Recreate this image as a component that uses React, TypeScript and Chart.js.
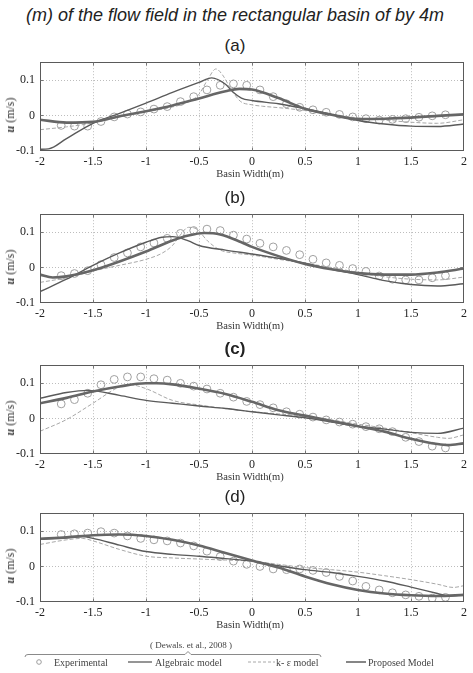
import React, { useEffect, useRef } from 'react';
import { Chart, registerables } from 'chart.js';
Chart.register(...registerables);

// ---------- shared axis data ----------
const xTickValues = [-2, -1.5, -1, -0.5, 0, 0.5, 1, 1.5, 2];
const xTickLabels = ['-2', '-1.5', '-1', '-0.5', '0', '0.5', '1', '1.5', '2'];
const yTickValues = [-0.1, 0, 0.1];
const yTickLabels = ['-0.1', '0', '0.1'];

// experimental sample positions (m)
const xExp = [-1.8, -1.675, -1.55, -1.425, -1.3, -1.175, -1.05, -0.925, -0.8, -0.675, -0.55, -0.425, -0.3, -0.175, -0.05, 0.075, 0.2, 0.325, 0.45, 0.575, 0.7, 0.825, 0.95, 1.075, 1.2, 1.325, 1.45, 1.575, 1.7, 1.825];

// ---------- (a) ----------
const expA = [-0.028, -0.030, -0.030, -0.017, -0.004, 0.004, 0.010, 0.018, 0.025, 0.039, 0.053, 0.072, 0.085, 0.089, 0.085, 0.072, 0.053, 0.033, 0.023, 0.016, 0.009, 0.003, -0.004, -0.009, -0.013, -0.011, -0.009, -0.005, -0.001, 0.002];
const algAx = [-2, -1.92, -1.75, -1.5, -1.25, -1, -0.75, -0.5, -0.38, -0.25, -0.18, -0.1, 0, 0.25, 0.5, 0.75, 1, 1.25, 1.5, 1.75, 2];
const algAy = [-0.095, -0.094, -0.065, -0.022, 0.006, 0.035, 0.065, 0.093, 0.106, 0.088, 0.066, 0.049, 0.042, 0.033, 0.019, 0.003, -0.014, -0.024, -0.030, -0.031, -0.024];
const keAx = [-2, -1.75, -1.5, -1.25, -1, -0.75, -0.6, -0.5, -0.42, -0.34, -0.28, -0.2, -0.11, 0, 0.1, 0.25, 0.5, 0.75, 1, 1.25, 1.5, 1.75, 2];
const keAy = [-0.040, -0.032, -0.021, -0.004, 0.010, 0.024, 0.038, 0.060, 0.100, 0.131, 0.115, 0.075, 0.040, 0.030, 0.026, 0.022, 0.014, 0.004, -0.007, -0.013, -0.019, -0.022, -0.012];
const propAx = [-2, -1.75, -1.5, -1.25, -1, -0.75, -0.5, -0.25, -0.12, 0, 0.25, 0.5, 0.75, 1, 1.25, 1.5, 1.75, 2];
const propAy = [-0.012, -0.020, -0.018, -0.002, 0.012, 0.028, 0.048, 0.068, 0.075, 0.073, 0.049, 0.019, 0.002, -0.010, -0.009, -0.006, -0.001, 0.003];

// ---------- (b) ----------
const expB = [-0.023, -0.017, -0.009, 0.008, 0.028, 0.041, 0.058, 0.069, 0.082, 0.096, 0.104, 0.108, 0.104, 0.091, 0.080, 0.068, 0.058, 0.048, 0.036, 0.023, 0.013, 0.006, -0.003, -0.011, -0.024, -0.033, -0.035, -0.035, -0.029, -0.023];
const algBx = [-2, -1.75, -1.5, -1.25, -1, -0.85, -0.75, -0.6, -0.5, -0.25, 0, 0.25, 0.5, 0.75, 1, 1.25, 1.5, 1.75, 2];
const algBy = [-0.068, -0.033, 0.006, 0.041, 0.071, 0.085, 0.087, 0.075, 0.062, 0.049, 0.038, 0.026, 0.012, -0.005, -0.020, -0.037, -0.048, -0.052, -0.046];
const keBx = [-2, -1.75, -1.5, -1.25, -1, -0.85, -0.75, -0.68, -0.6, -0.52, -0.42, -0.3, -0.15, 0, 0.25, 0.5, 0.75, 1, 1.25, 1.5, 1.75, 2];
const keBy = [-0.042, -0.029, -0.010, 0.006, 0.023, 0.040, 0.062, 0.090, 0.113, 0.108, 0.075, 0.049, 0.040, 0.035, 0.023, 0.012, 0.000, -0.014, -0.026, -0.033, -0.035, -0.027];
const propBx = [-2, -1.88, -1.75, -1.5, -1.25, -1, -0.75, -0.6, -0.45, -0.3, -0.1, 0, 0.25, 0.5, 0.75, 1, 1.25, 1.5, 1.75, 2];
const propBy = [-0.020, -0.028, -0.025, -0.008, 0.017, 0.045, 0.076, 0.090, 0.097, 0.093, 0.071, 0.058, 0.032, 0.010, -0.005, -0.016, -0.020, -0.020, -0.014, -0.003];

// ---------- (c) ----------
const expC = [0.041, 0.053, 0.071, 0.095, 0.110, 0.117, 0.117, 0.112, 0.108, 0.099, 0.091, 0.083, 0.071, 0.060, 0.048, 0.039, 0.030, 0.019, 0.012, 0.004, -0.004, -0.010, -0.016, -0.023, -0.029, -0.037, -0.053, -0.065, -0.078, -0.083];
const algCx = [-2, -1.75, -1.55, -1.25, -1, -0.75, -0.5, -0.25, 0, 0.25, 0.5, 0.75, 1, 1.25, 1.5, 1.75, 2];
const algCy = [0.057, 0.073, 0.079, 0.065, 0.051, 0.043, 0.035, 0.028, 0.019, 0.010, 0.002, -0.010, -0.022, -0.030, -0.039, -0.042, -0.027];
const keCx = [-2, -1.75, -1.5, -1.25, -1.15, -1, -0.75, -0.5, -0.25, 0, 0.25, 0.5, 0.75, 1, 1.25, 1.5, 1.75, 1.85, 2];
const keCy = [-0.036, -0.003, 0.043, 0.089, 0.095, 0.084, 0.051, 0.038, 0.028, 0.019, 0.013, 0.006, -0.004, -0.016, -0.027, -0.040, -0.053, -0.056, -0.046];
const propCx = [-2, -1.75, -1.5, -1.25, -1, -0.9, -0.75, -0.5, -0.25, 0, 0.25, 0.5, 0.75, 1, 1.25, 1.5, 1.75, 1.85, 2];
const propCy = [0.043, 0.058, 0.076, 0.090, 0.099, 0.099, 0.096, 0.084, 0.069, 0.047, 0.023, 0.008, -0.007, -0.022, -0.037, -0.057, -0.072, -0.075, -0.070];

// ---------- (d) ----------
const expD = [0.090, 0.092, 0.094, 0.098, 0.094, 0.086, 0.079, 0.075, 0.072, 0.066, 0.058, 0.043, 0.028, 0.015, 0.006, 0.000, -0.007, -0.009, -0.007, -0.011, -0.017, -0.028, -0.041, -0.056, -0.066, -0.074, -0.080, -0.084, -0.089, -0.087];
const algDx = [-2, -1.75, -1.6, -1.5, -1.25, -1, -0.75, -0.5, -0.25, 0, 0.25, 0.5, 0.75, 1, 1.25, 1.5, 1.75, 1.85, 2];
const algDy = [0.078, 0.081, 0.084, 0.079, 0.060, 0.042, 0.034, 0.029, 0.022, 0.015, 0.002, -0.009, -0.017, -0.028, -0.041, -0.058, -0.076, -0.083, -0.080];
const keDx = [-2, -1.75, -1.6, -1.5, -1.25, -1, -0.75, -0.5, -0.25, 0, 0.25, 0.5, 0.75, 1, 1.25, 1.5, 1.75, 1.9, 2];
const keDy = [0.062, 0.075, 0.079, 0.072, 0.048, 0.029, 0.024, 0.021, 0.018, 0.015, 0.006, -0.003, -0.009, -0.016, -0.026, -0.037, -0.050, -0.059, -0.054];
const propDx = [-2, -1.75, -1.5, -1.25, -1, -0.75, -0.5, -0.25, 0, 0.25, 0.5, 0.75, 1, 1.25, 1.5, 1.75, 2];
const propDy = [0.078, 0.082, 0.088, 0.090, 0.086, 0.075, 0.059, 0.038, 0.017, -0.003, -0.028, -0.050, -0.066, -0.076, -0.081, -0.083, -0.080];

const panelLabels = ['(a)', '(b)', '(c)', '(d)'];
const seriesNames = ['Experimental', 'Algebraic model', 'k- ε model', 'Proposed Model'];

const PANELS = [
  { label: panelLabels[0], bold: false, top: 54, exp: expA, alg: [algAx, algAy], ke: [keAx, keAy], prop: [propAx, propAy] },
  { label: panelLabels[1], bold: false, top: 206, exp: expB, alg: [algBx, algBy], ke: [keBx, keBy], prop: [propBx, propBy] },
  { label: panelLabels[2], bold: true, top: 357, exp: expC, alg: [algCx, algCy], ke: [keCx, keCy], prop: [propCx, propCy] },
  { label: panelLabels[3], bold: false, top: 505, exp: expD, alg: [algDx, algDy], ke: [keDx, keDy], prop: [propDx, propDy] },
];

const PLOT_H = 97;
const PAD_TOP = 4;
const X_AXIS_H = 20;
const SERIF = '"Liberation Serif", "DejaVu Serif", serif';
const SANS = '"Liberation Sans", Arial, sans-serif';

const toPts = (xs: number[], ys: number[]) => xs.map((x, i) => ({ x, y: ys[i] }));

const framePlugin = {
  id: 'frameGrid',
  beforeDatasetsDraw(chart: any) {
    const { ctx, chartArea, scales } = chart;
    const { left, right, top, bottom } = chartArea;
    ctx.save();
    ctx.strokeStyle = '#bdbdbd';
    ctx.lineWidth = 1;
    ctx.setLineDash([1, 2]);
    xTickValues.slice(1, -1).forEach((v) => {
      const px = Math.round(scales.x.getPixelForValue(v)) + 0.5;
      ctx.beginPath();
      ctx.moveTo(px, top);
      ctx.lineTo(px, bottom);
      ctx.stroke();
    });
    yTickValues.slice(1).forEach((v) => {
      const py = Math.round(scales.y.getPixelForValue(v)) + 0.5;
      ctx.beginPath();
      ctx.moveTo(left, py);
      ctx.lineTo(right, py);
      ctx.stroke();
    });
    ctx.restore();
  },
  afterDraw(chart: any) {
    const { ctx, chartArea, scales } = chart;
    const { left, right, top, bottom } = chartArea;
    ctx.save();
    ctx.strokeStyle = '#5a5a5a';
    ctx.lineWidth = 1;
    ctx.setLineDash([]);
    const l = Math.round(left) + 0.5, r = Math.round(right) - 0.5, t = Math.round(top) + 0.5, b = Math.round(bottom) - 0.5;
    ctx.strokeRect(l, t, r - l, b - t);
    ctx.strokeStyle = '#777';
    xTickValues.slice(1, -1).forEach((v) => {
      const px = Math.round(scales.x.getPixelForValue(v)) + 0.5;
      ctx.beginPath();
      ctx.moveTo(px, t); ctx.lineTo(px, t + 3);
      ctx.moveTo(px, b); ctx.lineTo(px, b - 3);
      ctx.stroke();
    });
    yTickValues.slice(1).forEach((v) => {
      const py = Math.round(scales.y.getPixelForValue(v)) + 0.5;
      ctx.beginPath();
      ctx.moveTo(l, py); ctx.lineTo(l + 3, py);
      ctx.moveTo(r, py); ctx.lineTo(r - 3, py);
      ctx.stroke();
    });
    ctx.restore();
  },
};

function Panel({ p }: { p: any }) {
  const ref = useRef<HTMLCanvasElement>(null);
  useEffect(() => {
    if (!ref.current) return;
    const chart = new Chart(ref.current, {
      type: 'scatter',
      data: {
        datasets: [
          {
            label: seriesNames[3], data: toPts(p.prop[0], p.prop[1]), showLine: true,
            borderColor: '#666666', borderWidth: 2.6, pointRadius: 0, cubicInterpolationMode: 'monotone',
          },
          {
            label: seriesNames[1], data: toPts(p.alg[0], p.alg[1]), showLine: true,
            borderColor: '#5a5a5a', borderWidth: 1.4, pointRadius: 0, cubicInterpolationMode: 'monotone',
          },
          {
            label: seriesNames[2], data: toPts(p.ke[0], p.ke[1]), showLine: true,
            borderColor: '#a8a8a8', borderWidth: 1, borderDash: [4, 2], pointRadius: 0, cubicInterpolationMode: 'monotone',
          },
          {
            label: seriesNames[0], data: toPts(xExp, p.exp), showLine: false,
            pointStyle: 'circle', pointRadius: 3.9, pointBorderWidth: 1,
            pointBorderColor: '#a0a0a0', pointBackgroundColor: 'rgba(255,255,255,0)',
          },
        ],
      } as any,
      options: {
        animation: false,
        responsive: false,
        maintainAspectRatio: false,
        layout: { padding: { top: PAD_TOP, right: 9, left: 0, bottom: 0 } },
        plugins: { legend: { display: false }, tooltip: { enabled: false }, title: { display: false } },
        scales: {
          x: {
            type: 'linear', min: -2, max: 2,
            afterBuildTicks: (s: any) => { s.ticks = xTickValues.map((v) => ({ value: v })); },
            afterFit: (s: any) => { s.height = X_AXIS_H; },
            grid: { display: false, drawTicks: false },
            border: { display: false },
            ticks: {
              padding: 4, color: '#222', maxRotation: 0, autoSkip: false,
              font: { family: SERIF, size: 12 },
              callback: (_v: any, i: number) => xTickLabels[i],
            },
          },
          y: {
            type: 'linear', min: -0.1, max: 0.15,
            afterBuildTicks: (s: any) => { s.ticks = yTickValues.map((v) => ({ value: v })); },
            afterFit: (s: any) => { s.width = 40; },
            grid: { display: false, drawTicks: false },
            border: { display: false },
            ticks: {
              padding: 5, color: '#222', autoSkip: false,
              font: { family: SERIF, size: 12 },
              callback: (_v: any, i: number) => yTickLabels[i],
            },
          },
        },
      } as any,
      plugins: [framePlugin],
    });
    return () => chart.destroy();
  }, []);
  const canvasTop = p.top - PAD_TOP;
  const canvasH = PAD_TOP + PLOT_H + X_AXIS_H;
  const zeroY = p.top + PLOT_H * (0.15 / 0.25);
  return (
    <>
      <div style={{ position: 'absolute', left: 235, top: p.top - 9, transform: 'translate(-50%,-50%)', font: `${p.bold ? 'bold ' : ''}17px ${SANS}`, color: '#222', lineHeight: 1, whiteSpace: 'nowrap' }}>{p.label}</div>
      <canvas ref={ref} width={473} height={canvasH} style={{ position: 'absolute', left: 0, top: canvasTop, width: 473, height: canvasH }} />
      <div style={{ position: 'absolute', left: 10, top: zeroY + 3, transform: 'translate(-50%,-50%) rotate(-90deg)', font: `12px ${SERIF}`, color: '#333', lineHeight: 1, whiteSpace: 'nowrap' }}>
        <i style={{ fontWeight: 'bold' }}>u</i> (m/s)
      </div>
      <div style={{ position: 'absolute', left: 250, top: p.top + PLOT_H + 23, transform: 'translate(-50%,-50%)', font: `10.5px ${SERIF}`, color: '#333', lineHeight: 1, whiteSpace: 'nowrap' }}>
        Basin Width(m)
      </div>
    </>
  );
}

export default function App() {
  return (
    <div style={{ position: 'absolute', left: 0, top: 0, width: 473, height: 673, background: '#fff', overflow: 'hidden' }}>
      <div style={{ position: 'absolute', left: 235, top: 15, transform: 'translate(-50%,-50%)', font: `italic 18px ${SANS}`, color: '#222', lineHeight: 1, whiteSpace: 'nowrap' }}>
        (m) of the flow field in the rectangular basin of by 4m
      </div>
      {PANELS.map((p) => <Panel key={p.label} p={p} />)}
      <svg width={473} height={673} style={{ position: 'absolute', left: 0, top: 0, pointerEvents: 'none' }}>
        <text x={191} y={648} textAnchor="middle" fontFamily={SERIF} fontSize={9} fill="#444">( Dewals. et al., 2008 )</text>
        <path d="M25,657 Q25,654.5 28,654.5 L185,654.5 L188,651.5 L191,654.5 L318,654.5 Q321,654.5 321,657" fill="none" stroke="#8a8a8a" strokeWidth={1} />
        <circle cx={39} cy={662} r={2.3} fill="none" stroke="#9c9c9c" strokeWidth={1} />
        <text x={54} y={665.5} fontFamily={SERIF} fontSize={10} fill="#444">{seriesNames[0]}</text>
        <line x1={128} y1={662} x2={152} y2={662} stroke="#5c5c5c" strokeWidth={1.3} />
        <text x={155} y={665.5} fontFamily={SERIF} fontSize={10} fill="#444">{seriesNames[1]}</text>
        <line x1={248} y1={662} x2={275} y2={662} stroke="#a8a8a8" strokeWidth={1} strokeDasharray="3,2" />
        <text x={276} y={665.5} fontFamily={SERIF} fontSize={10} fill="#444">{seriesNames[2]}</text>
        <line x1={346} y1={662} x2={366} y2={662} stroke="#686868" strokeWidth={1.6} />
        <text x={368} y={665.5} fontFamily={SERIF} fontSize={10} fill="#444">{seriesNames[3]}</text>
      </svg>
    </div>
  );
}
